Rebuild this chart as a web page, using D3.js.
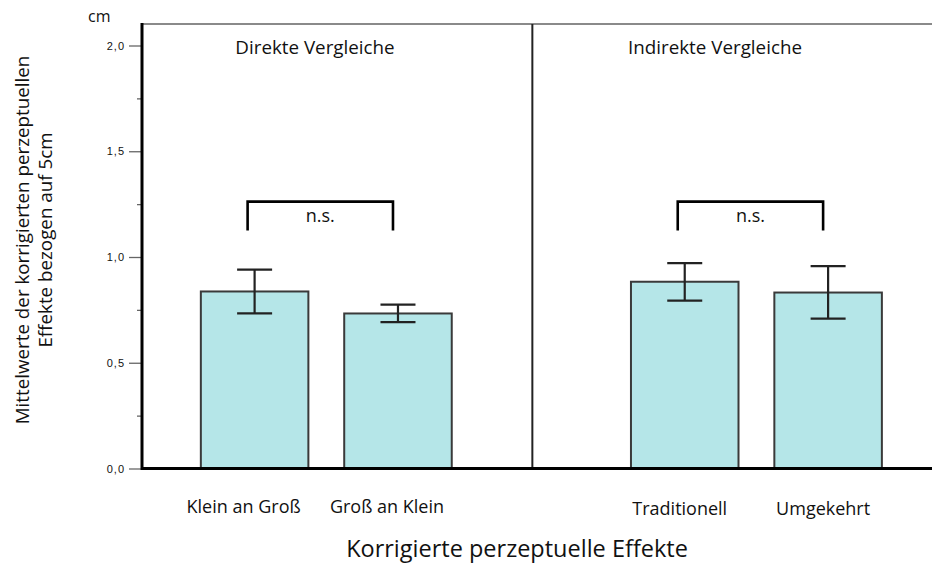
<!DOCTYPE html>
<html>
<head>
<meta charset="utf-8">
<script src="https://cdn.jsdelivr.net/npm/d3@7"></script>
<style>
  html, body { margin: 0; padding: 0; background: #fff; }
  svg { display: block; }
  text { font-family: "Open Sans", "Noto Sans", sans-serif; fill: #111; }
</style>
</head>
<body>
<svg id="chart" width="932" height="563"></svg>
<script>
// Conditions (an empty slot separates the two comparison groups)
const categories = ["Klein an Groß", "Groß an Klein", "", "Traditionell", "Umgekehrt"];
const conditions = ["Klein an Groß", "Groß an Klein", "Traditionell", "Umgekehrt"];
// Mean corrected perceptual effect (cm, relative to 5 cm) and error-bar limits
const means = [0.837, 0.733, 0.883, 0.832];
const errLow = [0.733, 0.692, 0.794, 0.709];
const errHigh = [0.940, 0.775, 0.971, 0.957];
// Group headings and significance comparisons
const groupTitles = ["Direkte Vergleiche", "Indirekte Vergleiche"];
const comparisons = [["Klein an Groß", "Groß an Klein"], ["Traditionell", "Umgekehrt"]];
const comparisonLabels = ["n.s.", "n.s."];
const bracketLevel = 1.262;
// Axis ticks
const yMajorTicks = [0, 0.5, 1.0, 1.5, 2.0];
const yMinorTicks = [0.25, 0.75, 1.25, 1.75];
const yTickLabels = ["0,0", "0,5", "1,0", "1,5", "2,0"];

const svg = d3.select("#chart");
const plotLeft = 142, plotRight = 932, plotTop = 24, plotBottom = 468.5;

const x = d3.scaleBand()
  .domain(categories)
  .range([plotLeft, plotRight])
  .paddingInner(0.25)
  .paddingOuter(0.38)
  .align(0.54);

const y = d3.scaleLinear().domain([0, 2]).range([plotBottom, 45.5]);

// Frame: thin grey top line, divider between groups
svg.append("line")
  .attr("x1", plotLeft).attr("x2", plotRight).attr("y1", plotTop).attr("y2", plotTop)
  .attr("stroke", "#8a8a8a").attr("stroke-width", 2);

const dividerX = x("") + x.bandwidth() / 2 - 9;
svg.append("line")
  .attr("x1", dividerX).attr("x2", dividerX).attr("y1", plotTop).attr("y2", plotBottom)
  .attr("stroke", "#222").attr("stroke-width", 2);

// Y axis: major ticks with labels, minor ticks without
const yAxis = d3.axisLeft(y)
  .tickValues(yMajorTicks)
  .tickFormat((d, i) => yTickLabels[i])
  .tickSize(13)
  .tickPadding(4);
const gy = svg.append("g").attr("transform", `translate(${plotLeft},0)`).call(yAxis);
gy.select(".domain").remove();
gy.selectAll(".tick line").attr("stroke", "#666").attr("stroke-width", 1.3);
gy.selectAll(".tick text")
  .style("font-family", "'Liberation Sans', Arial, sans-serif")
  .style("font-size", "11px")
  .style("letter-spacing", "1px")
  .attr("fill", "#444");

const gyMinor = svg.append("g").attr("transform", `translate(${plotLeft},0)`)
  .call(d3.axisLeft(y).tickValues(yMinorTicks).tickFormat("").tickSize(5));
gyMinor.select(".domain").remove();
gyMinor.selectAll(".tick line").attr("stroke", "#666").attr("stroke-width", 1.3);

// Bars
const rows = conditions.map((c, i) => ({ c, m: means[i], lo: errLow[i], hi: errHigh[i] }));
svg.append("g").selectAll("rect").data(rows).join("rect")
  .attr("x", d => x(d.c))
  .attr("y", d => y(d.m))
  .attr("width", x.bandwidth())
  .attr("height", d => y(0) - y(d.m))
  .attr("fill", "#b5e6e8")
  .attr("stroke", "#3a3a3a")
  .attr("stroke-width", 2);

// Error bars
const capHalf = 17.5;
const eb = svg.append("g").attr("stroke", "#222").attr("stroke-width", 2.2);
rows.forEach(d => {
  const cx = x(d.c) + x.bandwidth() / 2;
  eb.append("line").attr("x1", cx).attr("x2", cx).attr("y1", y(d.hi)).attr("y2", y(d.lo));
  eb.append("line").attr("x1", cx - capHalf).attr("x2", cx + capHalf).attr("y1", y(d.hi)).attr("y2", y(d.hi));
  eb.append("line").attr("x1", cx - capHalf).attr("x2", cx + capHalf).attr("y1", y(d.lo)).attr("y2", y(d.lo));
});

// Left axis line and baseline drawn on top
svg.append("line")
  .attr("x1", plotLeft).attr("x2", plotLeft).attr("y1", plotTop - 1).attr("y2", plotBottom + 1.5)
  .attr("stroke", "#000").attr("stroke-width", 3);
svg.append("line")
  .attr("x1", plotLeft).attr("x2", plotRight).attr("y1", plotBottom).attr("y2", plotBottom)
  .attr("stroke", "#000").attr("stroke-width", 3);

// Significance brackets
comparisons.forEach((pair, i) => {
  const x1 = x(pair[0]) + x.bandwidth() / 2 - 7;
  const x2 = x(pair[1]) + x.bandwidth() / 2 - 5;
  const yb = y(bracketLevel);
  svg.append("path")
    .attr("d", `M${x1},${yb + 29}V${yb}H${x2}V${yb + 29}`)
    .attr("fill", "none").attr("stroke", "#000").attr("stroke-width", 2.6);
  svg.append("text")
    .attr("x", (x1 + x2) / 2).attr("y", yb + 20)
    .attr("text-anchor", "middle")
    .style("font-size", "18px")
    .text(comparisonLabels[i]);
});

// Group headings
[315, 715].forEach((cx, i) => {
  svg.append("text")
    .attr("x", cx).attr("y", 54)
    .attr("text-anchor", "middle")
    .style("font-size", "18.8px")
    .text(groupTitles[i]);
});

// X category labels
const xAxis = d3.axisBottom(x).tickSize(0).tickPadding(0)
  .tickFormat(d => d);
const gx = svg.append("g").attr("transform", `translate(0,${plotBottom})`).call(xAxis);
gx.select(".domain").remove();
gx.selectAll(".tick text")
  .attr("dx", (d, i) => (i < 2 ? -11 : -5))
  .attr("dy", 0)
  .attr("y", (d, i) => (i < 2 ? 44 : 46))
  .style("font-size", "18px")
  .attr("fill", "#111");

// Axis titles
svg.append("text")
  .attr("x", 88).attr("y", 22)
  .style("font-size", "16px")
  .text("cm");

svg.append("text")
  .attr("x", 517).attr("y", 557)
  .attr("text-anchor", "middle")
  .style("font-size", "23.5px")
  .text("Korrigierte perzeptuelle Effekte");

const yt = svg.append("text")
  .attr("transform", "translate(29,240) rotate(-90)")
  .attr("text-anchor", "middle")
  .style("font-size", "18.8px");
yt.append("tspan").attr("x", 0).attr("y", 0).text("Mittelwerte der korrigierten perzeptuellen");
yt.append("tspan").attr("x", 0).attr("y", 23).text("Effekte bezogen auf 5cm");
</script>
</body>
</html>
